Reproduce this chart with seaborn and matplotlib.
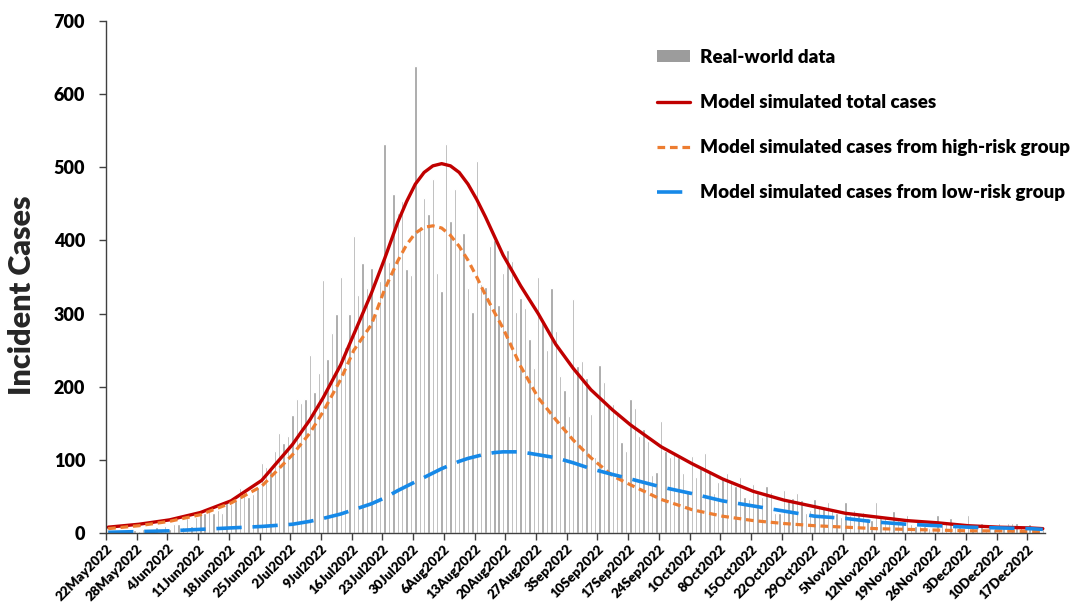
import pandas as pd
import matplotlib.pyplot as plt
import seaborn as sns
from matplotlib.patches import Patch
from matplotlib.lines import Line2D

# Daily incident cases (bars), one value per day from 22May2022
cases_early = [0, 2, 1, 3, 2, 1, 4, 3, 6, 4, 5, 8, 4, 10, 6, 12,
               12, 8, 20, 10, 22, 26, 27, 33, 27, 31, 27, 45, 40, 45, 62, 52, 49, 54, 63, 96,
               90, 86, 112, 137, 123, 133]
cases_rise = [161, 183, 178, 183, 243, 193, 219, 346, 238, 274, 299, 350, 255, 300, 406,
              326, 369, 335, 362, 300, 345, 532]
cases_peak = [370, 463, 437, 454, 361, 353, 639, 420, 458, 436, 484, 356, 331, 532, 427,
              470, 393, 410, 335, 302, 509, 340, 336, 393, 401, 312, 355, 387, 372, 302,
              322, 308, 265, 225, 350, 290, 250, 335, 276, 215, 195, 160, 320, 228]
cases_decline = [235, 212, 163, 104, 230, 206, 174, 176, 166, 125, 112, 183, 171, 133, 142,
                 126, 79, 83, 153, 112, 104, 111, 104, 82, 57, 105, 77, 89, 109, 83, 55, 70,
                 77, 82, 70, 64, 76, 49, 46, 67, 55, 49, 64, 56, 27, 27, 59, 46, 48, 55, 45,
                 27, 31, 46, 37, 36, 43, 32, 28]
cases_tail = [22, 43, 25, 32, 27, 29, 20, 18, 43, 20, 22, 14, 30, 18, 13, 24, 12, 10, 9, 10,
              7, 6, 25, 15, 14, 21, 14, 10, 6, 24, 13, 12, 14, 6, 9, 5, 14, 9, 14, 14, 14, 9,
              5, 12, 10, 6, 6]
cases = cases_early + cases_rise + cases_peak + cases_decline + cases_tail

# Model curves, read at selected days
curve_days = [0, 7, 14, 21, 28, 35, 42, 46, 49, 53, 56, 60,
              63, 66, 68, 70, 72, 74, 76, 78, 80, 82, 84, 86, 88, 90,
              94, 98, 102, 106, 110, 115, 119, 126, 133, 140, 147, 154, 161, 168, 175, 182,
              189, 196, 203, 210, 213]
total_cases = [8, 12, 18, 28, 44, 72, 121, 155, 185, 230, 272, 328,
               375, 425, 453, 477, 493, 502, 505, 502, 493, 477, 456, 432, 406, 380,
               338, 300, 258, 225, 196, 168, 148, 118, 95, 74, 57, 45, 36, 27, 22, 17,
               14, 10, 8, 7, 6]
high_risk = [6, 10, 16, 25, 41, 64, 107, 137, 166, 210, 250, 285,
             333, 372, 394, 410, 418, 420, 417, 407, 392, 373, 350, 325, 302, 280,
             228, 185, 155, 127, 103, 78, 66, 46, 32, 23, 17, 13, 10, 8, 6, 5,
             4, 3, 3, 2, 2]
low_risk = [1, 2, 3, 5, 7, 9, 12, 16, 20, 26, 32, 40,
            48, 58, 64, 70, 76, 82, 88, 93, 98, 102, 105, 108, 110, 111,
            111, 107, 103, 96, 88, 80, 74, 63, 54, 44, 37, 30, 23, 20, 15, 12,
            10, 8, 7, 6, 5]

tick_labels = ["22May2022", "28May2022", "4Jun2022", "11Jun2022", "18Jun2022", "25Jun2022",
               "2Jul2022", "9Jul2022", "16Jul2022", "23Jul2022", "30Jul2022", "6Aug2022",
               "13Aug2022", "20Aug2022", "27Aug2022", "3Sep2022", "10Sep2022", "17Sep2022",
               "24Sep2022", "1Oct2022", "8Oct2022", "15Oct2022", "22Oct2022", "29Oct2022",
               "5Nov2022", "12Nov2022", "19Nov2022", "26Nov2022", "3Dec2022", "10Dec2022",
               "17Dec2022"]

bars = pd.DataFrame({"day": range(len(cases)), "cases": cases})
curves = pd.DataFrame({"day": curve_days, "total": total_cases,
                       "high": high_risk, "low": low_risk})

sns.set_style("ticks")
plt.rcParams["font.family"] = ["Lato", "DejaVu Sans"]
plt.rcParams["text.color"] = "black"
plt.rcParams["xtick.color"] = "black"
plt.rcParams["ytick.color"] = "black"

fig = plt.figure(figsize=(10.79, 6.04), dpi=100)
ax = fig.add_axes([0.0982, 0.1175, 0.8703, 0.8477])

grey = "#9c9c9c"
red = "#c00000"
orange = "#ed7d31"
blue = "#1689e8"
weight = "heavy"

sns.barplot(data=bars, x="day", y="cases", color=grey, saturation=1, width=0.55,
            errorbar=None, ax=ax)
sns.lineplot(data=curves, x="day", y="total", color=red, lw=2.4, ax=ax)
sns.lineplot(data=curves, x="day", y="high", color=orange, lw=2.3,
             ax=ax).lines[-1].set_dashes((2.4, 1.5))
sns.lineplot(data=curves, x="day", y="low", color=blue, lw=2.6, ax=ax).lines[-1].set_dashes((7, 3))

ax.set_xlim(-0.5, len(cases) - 0.5)
ax.set_ylim(0, 700)
ax.set_yticks(range(0, 701, 100))
ax.set_xticks([7 * k - 0.5 for k in range(len(tick_labels))])
ax.set_xticklabels(tick_labels, rotation=45, ha="right", rotation_mode="anchor",
                   fontsize=9.6, fontweight=weight)
for t in ax.get_yticklabels():
    t.set_fontsize(13)
    t.set_fontweight(weight)
ax.set_xlabel("")
ax.set_ylabel("Incident Cases", fontsize=22, fontweight=weight)
ax.yaxis.set_label_coords(-0.074, 0.465)

for side in ["top", "right"]:
    ax.spines[side].set_visible(False)
for side in ["left", "bottom"]:
    ax.spines[side].set_color("#404040")
    ax.spines[side].set_linewidth(1)
ax.tick_params(axis="both", direction="out", length=5, width=1, color="#404040")
ax.tick_params(axis="x", pad=2)
ax.tick_params(axis="y", pad=10)

handles = [
    Patch(facecolor=grey, edgecolor="none"),
    Line2D([], [], color=red, lw=2.4),
    Line2D([], [], color=orange, lw=2.3, dashes=(2.4, 1.5)),
    Line2D([], [], color=blue, lw=2.6, dashes=(7, 3)),
]
labels = ["Real-world data", "Model simulated total cases",
          "Model simulated cases from high-risk group",
          "Model simulated cases from low-risk group"]
ax.legend(handles, labels, loc="upper left", bbox_to_anchor=(0.6, 0.935),
          bbox_transform=fig.transFigure, frameon=False,
          prop={"size": 13.5, "weight": weight},
          handlelength=1.75, handleheight=0.55, handletextpad=0.55, labelspacing=1.5,
          borderpad=0)

plt.savefig("out.png", dpi=100)
